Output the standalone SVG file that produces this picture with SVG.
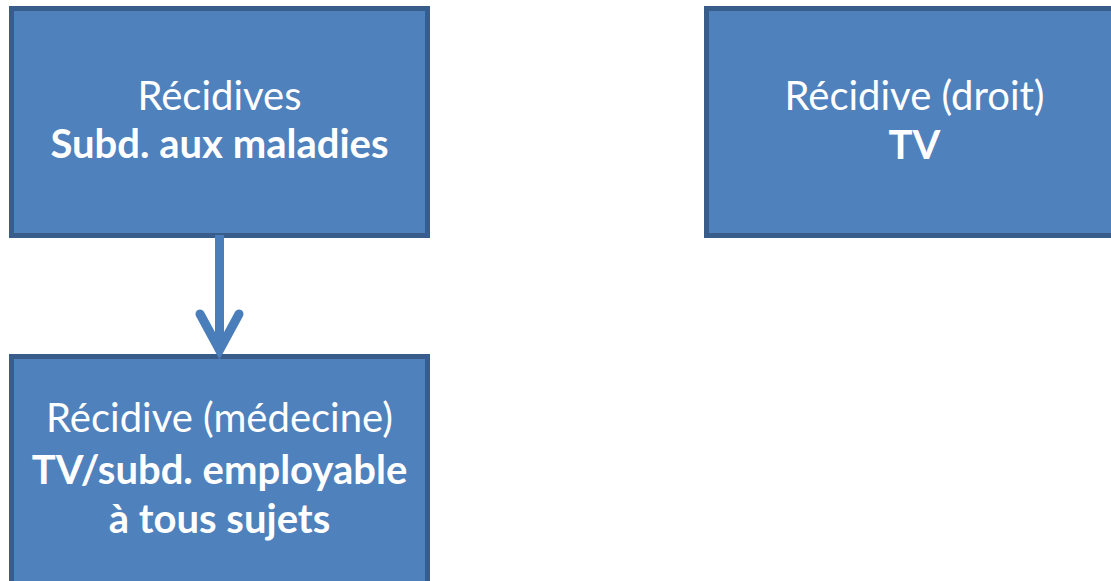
<svg xmlns="http://www.w3.org/2000/svg" width="1111" height="581" viewBox="0 0 1111 581">
<style>
.box{fill:#4F81BD;stroke:#385D8A;stroke-width:5}
.t{font-family:Lato,"Open Sans",sans-serif;font-size:40px;fill:#FFFFFF;text-anchor:middle}
.b{font-weight:bold}
.conn{fill:none;stroke:#4A7EBB;stroke-width:9}
</style>
<rect width="1111" height="581" fill="#FFFFFF"/>
<g id="node-recidives">
<rect class="box" x="11.5" y="8.5" width="416" height="227"/>
<text class="t" x="219.5" y="110">Récidives</text>
<text class="t b" x="219.5" y="158">Subd. aux maladies</text>
</g>
<g id="node-droit">
<rect class="box" x="706.5" y="8.5" width="416" height="227"/>
<text class="t" x="914.5" y="110">Récidive (droit)</text>
<text class="t b" x="914.5" y="159">TV</text>
</g>
<g id="node-medecine">
<rect class="box" x="11.5" y="356.5" width="416" height="227"/>
<text class="t" x="219.5" y="432">Récidive (médecine)</text>
<text class="t b" x="219.5" y="484">TV/subd. employable</text>
<text class="t b" x="219.5" y="533">à tous sujets</text>
</g>
<g id="connectors">
<line class="conn" x1="219.5" y1="235" x2="219.5" y2="348"/>
<polyline class="conn" points="200,314 219.5,350 239,314" stroke-linecap="round" stroke-linejoin="miter"/>
</g>
</svg>
